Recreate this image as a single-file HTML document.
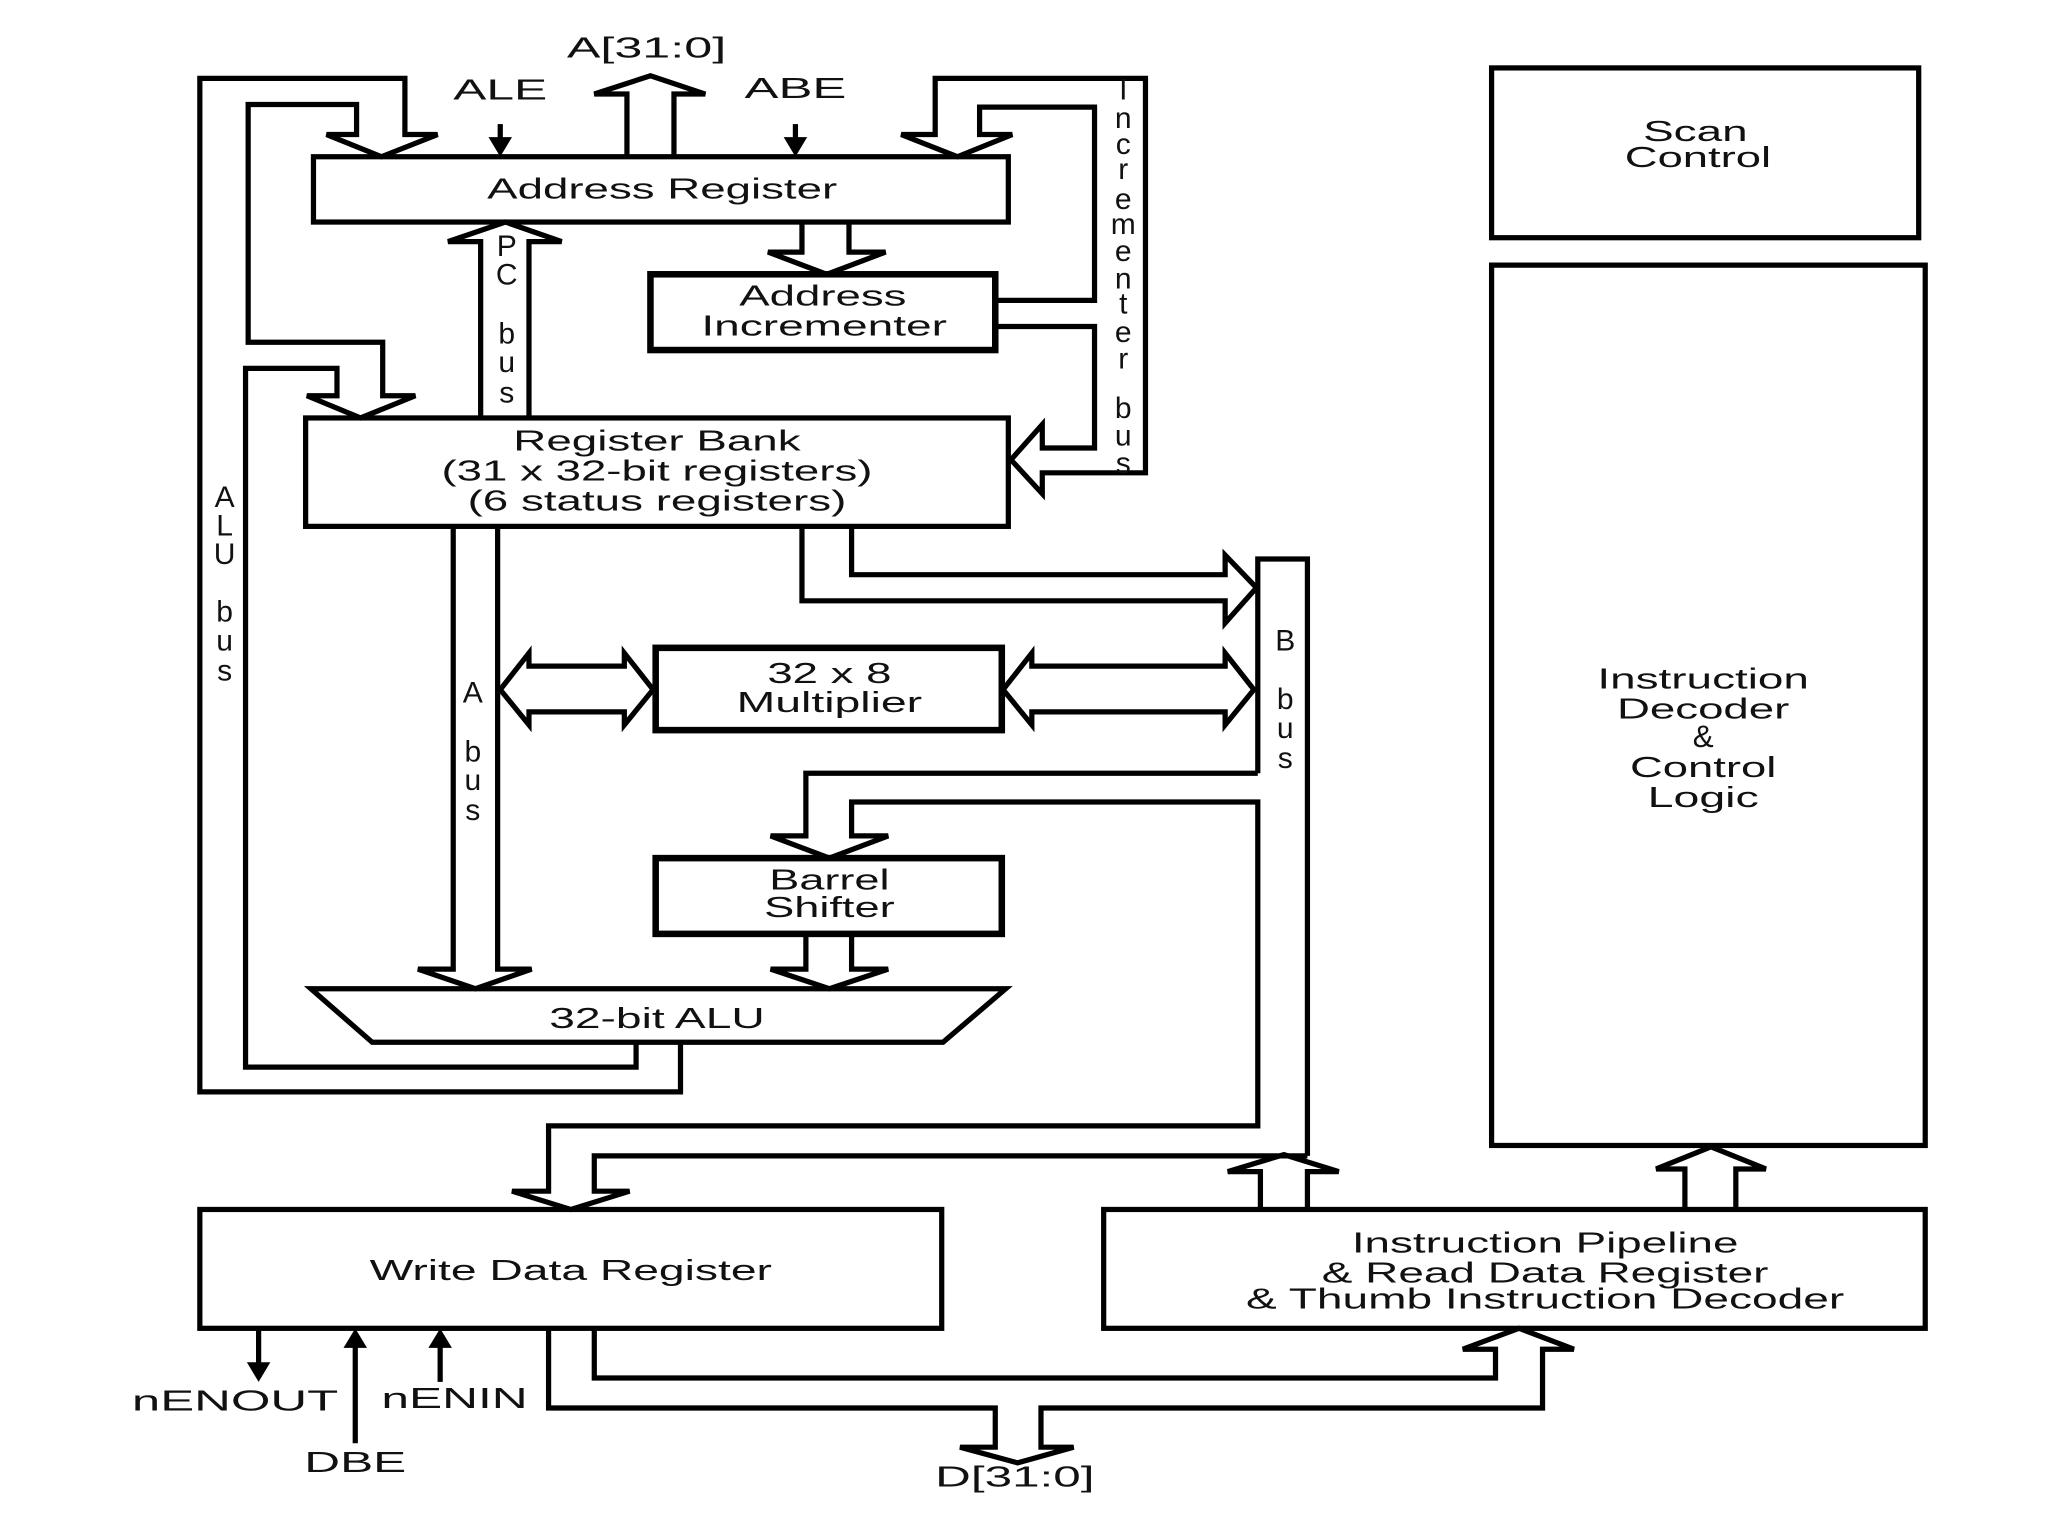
<!DOCTYPE html>
<html><head><meta charset="utf-8"><style>
html,body{margin:0;padding:0;background:#fff;}
svg{display:block;}
text{font-family:"Liberation Sans",sans-serif;fill:#111;}
</style></head><body>
<svg width="2048" height="1536" viewBox="0 0 1568 1176" preserveAspectRatio="none" xmlns="http://www.w3.org/2000/svg">
<g fill="none" stroke="#000" stroke-width="4" stroke-linejoin="miter">
<rect x="240" y="120" width="532" height="50"/>
<rect x="498" y="210" width="264" height="58" stroke-width="5"/>
<rect x="234" y="320" width="538" height="83"/>
<rect x="502" y="496" width="265" height="63" stroke-width="5"/>
<rect x="502" y="657" width="265" height="58" stroke-width="5"/>
<path d="M238,757 L770,757 L722,798 L285,798 Z"/>
<rect x="153" y="926" width="568" height="91"/>
<rect x="845" y="926" width="629" height="91"/>
<rect x="1142" y="52" width="327" height="130"/>
<rect x="1142" y="203" width="332" height="674"/>
<path d="M521,798 L521,836 L153,836 L153,60 L310,60 L310,103 L335,103 L292,120 L250,103 L273,103 L273,80 L190,80 L190,262 L293,262 L293,303 L318,303 L276,320 L235,303 L258,303 L258,282 L188,282 L188,817 L487,817 L487,798"/>
<path d="M480,120 L480,72 L455,72 L498,58 L540,72 L516,72 L516,120"/>
<path d="M762,230 L838,230 L838,82 L750,82 L750,103 L775,103 L733,120 L690,103 L716,103 L716,60 L877,60 L877,362 L798,362 L798,378 L774,352 L798,325 L798,343 L838,343 L838,250 L762,250"/>
<path d="M614,170 L614,193 L588,193 L633,210 L678,193 L650,193 L650,170"/>
<path d="M368,320 L368,185 L343,185 L387,170 L430,185 L405,185 L405,320"/>
<path d="M347,403 L347,742 L320,742 L364,757 L407,742 L381,742 L381,403"/>
<path d="M405,510 L478,510 L478,500 L500,528 L478,555 L478,545 L405,545 L405,555 L383,528 L405,500 Z" fill="#fff"/>
<path d="M790,510 L938,510 L938,500 L960,528 L938,555 L938,545 L790,545 L790,555 L768,528 L790,500 Z"/>
<path d="M614,403 L614,460 L938,460 L938,477 L962,450 L938,425 L938,440 L652,440 L652,403"/>
<path d="M963,592 L963,428 L1001,428 L1001,885"/>
<path d="M965,926 L965,897 L940,897 L983,884 L1025,897 L1001,897 L1001,926"/>
<path d="M963,592 L617,592 L617,640 L590,640 L635,657 L680,640 L652,640 L652,614 L963,614 L963,862 L420,862 L420,912 L392,912 L437,926 L482,912 L455,912 L455,885 L1001,885"/>
<path d="M617,715 L617,742 L590,742 L635,757 L680,742 L652,742 L652,715"/>
<path d="M420,1017 L420,1078 L762,1078 L762,1108 L735,1108 L779,1120 L822,1108 L797,1108 L797,1078 L1181,1078 L1181,1033 L1205,1033 L1163,1017 L1120,1033 L1145,1033 L1145,1055 L455,1055 L455,1017"/>
<path d="M1290,926 L1290,895 L1268,895 L1310,878 L1352,895 L1329,895 L1329,926"/>
<line x1="383" y1="95" x2="383" y2="108"/>
<line x1="609" y1="95" x2="609" y2="108"/>
<line x1="198" y1="1017" x2="198" y2="1045"/>
<line x1="272" y1="1105" x2="272" y2="1030"/>
<line x1="337" y1="1058" x2="337" y2="1030"/>
</g>
<g fill="#000">
<polygon points="374,105 392,105 383,120"/>
<polygon points="600,105 618,105 609,120"/>
<polygon points="189,1043 207,1043 198,1058"/>
<polygon points="263,1032 281,1032 272,1017"/>
<polygon points="328,1032 346,1032 337,1017"/>
</g>
<g font-size="22" text-anchor="middle">
<text x="507" y="152" textLength="268" lengthAdjust="spacingAndGlyphs">Address Register</text>
<text x="630" y="234" textLength="128" lengthAdjust="spacingAndGlyphs">Address</text>
<text x="631" y="257" textLength="188" lengthAdjust="spacingAndGlyphs">Incrementer</text>
<text x="503" y="345" textLength="220" lengthAdjust="spacingAndGlyphs">Register Bank</text>
<text x="503" y="368" textLength="330" lengthAdjust="spacingAndGlyphs">(31 x 32-bit registers)</text>
<text x="503" y="391" textLength="290" lengthAdjust="spacingAndGlyphs">(6 status registers)</text>
<text x="635" y="523" textLength="95" lengthAdjust="spacingAndGlyphs">32 x 8</text>
<text x="635" y="545" textLength="142" lengthAdjust="spacingAndGlyphs">Multiplier</text>
<text x="635" y="681" textLength="92" lengthAdjust="spacingAndGlyphs">Barrel</text>
<text x="635" y="702" textLength="100" lengthAdjust="spacingAndGlyphs">Shifter</text>
<text x="503" y="787" textLength="165" lengthAdjust="spacingAndGlyphs">32-bit ALU</text>
<text x="437" y="980" textLength="308" lengthAdjust="spacingAndGlyphs">Write Data Register</text>
<text x="1183" y="959" textLength="296" lengthAdjust="spacingAndGlyphs">Instruction Pipeline</text>
<text x="1183" y="982" textLength="342" lengthAdjust="spacingAndGlyphs">&amp; Read Data Register</text>
<text x="1183" y="1002" textLength="458" lengthAdjust="spacingAndGlyphs">&amp; Thumb Instruction Decoder</text>
<text x="1298" y="108" textLength="80" lengthAdjust="spacingAndGlyphs">Scan</text>
<text x="1300" y="128" textLength="112" lengthAdjust="spacingAndGlyphs">Control</text>
<text x="1304" y="527" textLength="162" lengthAdjust="spacingAndGlyphs">Instruction</text>
<text x="1304" y="550" textLength="132" lengthAdjust="spacingAndGlyphs">Decoder</text>
<text x="1304" y="572" font-size="24">&amp;</text>
<text x="1304" y="595" textLength="112" lengthAdjust="spacingAndGlyphs">Control</text>
<text x="1304" y="618" textLength="85" lengthAdjust="spacingAndGlyphs">Logic</text>
<text x="495" y="44" textLength="122" lengthAdjust="spacingAndGlyphs">A[31:0]</text>
<text x="383" y="76" textLength="72" lengthAdjust="spacingAndGlyphs">ALE</text>
<text x="609" y="75" textLength="78" lengthAdjust="spacingAndGlyphs">ABE</text>
<text x="180" y="1080" textLength="158" lengthAdjust="spacingAndGlyphs">nENOUT</text>
<text x="348" y="1078" textLength="112" lengthAdjust="spacingAndGlyphs">nENIN</text>
<text x="272" y="1127" textLength="78" lengthAdjust="spacingAndGlyphs">DBE</text>
<text x="777" y="1138" textLength="122" lengthAdjust="spacingAndGlyphs">D[31:0]</text>
</g>
<g font-size="23" text-anchor="middle">
<text x="172" y="388">A</text><text x="172" y="410">L</text><text x="172" y="432">U</text>
<text x="172" y="476">b</text><text x="172" y="498">u</text><text x="172" y="521">s</text>
<text x="984" y="498">B</text><text x="984" y="543">b</text><text x="984" y="565">u</text><text x="984" y="588">s</text>
<text x="362" y="538">A</text><text x="362" y="583">b</text><text x="362" y="605">u</text><text x="362" y="628">s</text>
<text x="388" y="196">P</text><text x="388" y="218">C</text><text x="388" y="263">b</text><text x="388" y="285">u</text><text x="388" y="308">s</text>
<text x="860" y="76">I</text><text x="860" y="98">n</text><text x="860" y="118">c</text><text x="860" y="137">r</text>
<text x="860" y="160">e</text><text x="860" y="179">m</text><text x="860" y="200">e</text><text x="860" y="221">n</text>
<text x="860" y="240">t</text><text x="860" y="262">e</text><text x="860" y="282">r</text>
<text x="860" y="320">b</text><text x="860" y="341">u</text><text x="860" y="362">s</text>
</g>
</svg>
</body></html>
